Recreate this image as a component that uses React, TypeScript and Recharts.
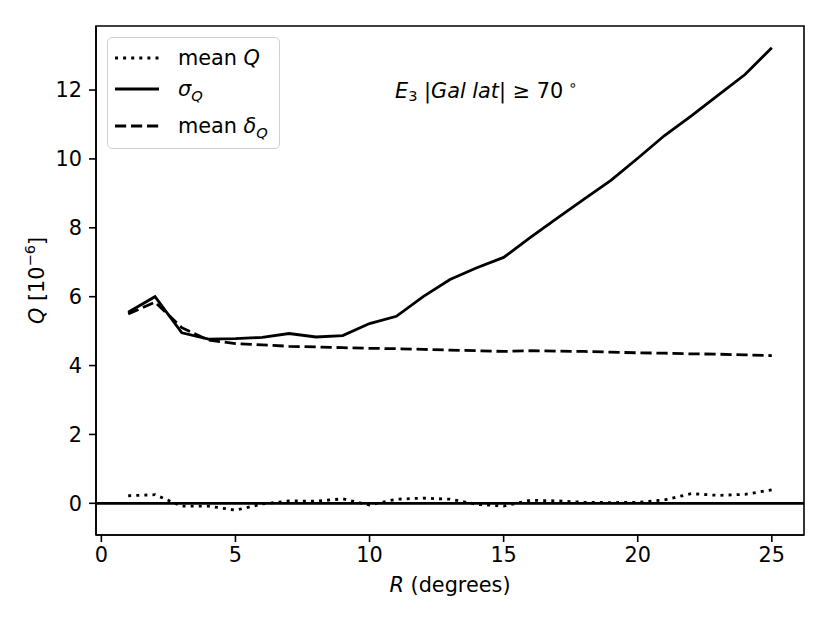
import React from "react";
import { LineChart, Line, XAxis, YAxis, ReferenceLine, ReferenceArea, Legend, Label } from "recharts";

const radii = [1, 2, 3, 4, 5, 6, 7, 8, 9, 10, 11, 12, 13, 14, 15, 16, 17, 18, 19, 20, 21, 22, 23, 24, 25];
const meanQ = [0.22, 0.25, -0.08, -0.08, -0.2, -0.02, 0.07, 0.06, 0.13, -0.05, 0.12, 0.15, 0.12, -0.03, -0.08, 0.09, 0.07, 0.03, 0.02, 0.03, 0.1, 0.28, 0.23, 0.26, 0.39];
const sigmaQ = [5.55, 6.0, 4.95, 4.77, 4.78, 4.82, 4.93, 4.83, 4.87, 5.22, 5.43, 6.0, 6.5, 6.84, 7.14, 7.72, 8.28, 8.83, 9.38, 10.02, 10.68, 11.25, 11.85, 12.45, 13.23];
const meanDeltaQ = [5.5, 5.84, 5.1, 4.74, 4.64, 4.6, 4.56, 4.54, 4.52, 4.5, 4.49, 4.47, 4.45, 4.43, 4.41, 4.43, 4.42, 4.41, 4.39, 4.37, 4.36, 4.34, 4.33, 4.31, 4.29];

const xTicks = [0, 5, 10, 15, 20, 25];
const yTicks = [0, 2, 4, 6, 8, 10, 12];

const data = radii.map((r, i) => ({ r, meanQ: meanQ[i], sigmaQ: sigmaQ[i], meanDeltaQ: meanDeltaQ[i] }));

const FONT = "DejaVu Sans, sans-serif";
const FS = 20.8;
const SUB = 14.6;
const LW = 2.8;
const AXW = 1.6;
const DOTTED = "3 5.1";
const DASHED = "11.2 4.8";

function LegendBox() {
  const rows = [
    { dash: DOTTED, y: 20, label: <>mean <i>Q</i></> },
    { dash: undefined, y: 51, label: <><i>σ</i><sub style={{ fontSize: SUB, fontStyle: "italic" }}>Q</sub></> },
    { dash: DASHED, y: 88, label: <>mean <i>δ</i><sub style={{ fontSize: SUB, fontStyle: "italic" }}>Q</sub></> },
  ];
  return (
    <div
      style={{
        position: "relative",
        width: 173,
        height: 112,
        border: "1.4px solid #d0d0d0",
        borderRadius: 5,
        background: "rgba(255,255,255,0.8)",
        boxSizing: "border-box",
        fontFamily: FONT,
        fontSize: FS,
        color: "#000",
      }}
    >
      {rows.map((row, i) => (
        <div key={i} style={{ position: "absolute", left: 0, top: row.y - 13, height: 26, width: "100%" }}>
          <svg width={52} height={26} style={{ position: "absolute", left: 0, top: 0 }}>
            <line x1={7} x2={51} y1={13} y2={13} stroke="#000" strokeWidth={LW} strokeDasharray={row.dash} />
          </svg>
          <span style={{ position: "absolute", left: 70, top: 0, lineHeight: "26px", whiteSpace: "nowrap" }}>{row.label}</span>
        </div>
      ))}
    </div>
  );
}

export default function App() {
  return (
    <div style={{ position: "absolute", left: 0, top: 0, width: 830, height: 623, background: "#fff" }}>
      <LineChart width={830} height={623} data={data} margin={{ top: 26, right: 26, bottom: 0, left: 0 }}>
        <XAxis
          dataKey="r"
          type="number"
          domain={[-0.2, 26.2]}
          ticks={xTicks}
          allowDataOverflow
          height={88}
          tickSize={7}
          tickMargin={5}
          axisLine={{ stroke: "#000", strokeWidth: AXW }}
          tickLine={{ stroke: "#000", strokeWidth: AXW }}
          tick={{ fill: "#000", fontSize: FS, fontFamily: FONT }}
        >
          <Label
            content={({ viewBox }: any) => (
              <text
                x={viewBox.x + viewBox.width / 2}
                y={viewBox.y + 57}
                textAnchor="middle"
                fontFamily={FONT}
                fontSize={FS}
                fill="#000"
              >
                <tspan fontStyle="italic">R</tspan>
                <tspan> (degrees)</tspan>
              </text>
            )}
          />
        </XAxis>
        <YAxis
          type="number"
          domain={[-0.92, 13.86]}
          ticks={yTicks}
          allowDataOverflow
          width={96}
          tickSize={7}
          tickMargin={7}
          axisLine={{ stroke: "#000", strokeWidth: AXW }}
          tickLine={{ stroke: "#000", strokeWidth: AXW }}
          tick={{ fill: "#000", fontSize: FS, fontFamily: FONT }}
        >
          <Label
            content={({ viewBox }: any) => {
              const cx = 44;
              const cy = viewBox.y + viewBox.height / 2;
              return (
                <text
                  x={cx}
                  y={cy}
                  transform={`rotate(-90 ${cx} ${cy})`}
                  textAnchor="middle"
                  fontFamily={FONT}
                  fontSize={FS}
                  fill="#000"
                >
                  <tspan fontStyle="italic">Q</tspan>
                  <tspan> [10</tspan>
                  <tspan fontSize={SUB} dy={-9}>−6</tspan>
                  <tspan dy={9}>]</tspan>
                </text>
              );
            }}
          />
        </YAxis>
        <ReferenceArea x1={-0.2} x2={26.2} y1={-0.92} y2={13.86} fill="none" stroke="#000" strokeWidth={AXW} ifOverflow="visible" />
        <ReferenceLine y={0} stroke="#000" strokeWidth={LW} />
        <Line
          dataKey="meanQ"
          stroke="#000"
          strokeWidth={LW}
          strokeDasharray={DOTTED}
          dot={false}
          isAnimationActive={false}
        />
        <Line dataKey="sigmaQ" stroke="#000" strokeWidth={LW} dot={false} isAnimationActive={false} />
        <Line
          dataKey="meanDeltaQ"
          stroke="#000"
          strokeWidth={LW}
          strokeDasharray={DASHED}
          dot={false}
          isAnimationActive={false}
        />
        <Legend
          layout="horizontal"
          verticalAlign="middle"
          align="center"
          content={() => <LegendBox />}
          wrapperStyle={{ position: "absolute", left: 107, top: 37, width: 173, height: 112, margin: 0 }}
        />
      </LineChart>
      <div
        style={{
          position: "absolute",
          left: 395,
          top: 72,
          fontFamily: FONT,
          fontSize: FS,
          color: "#000",
          whiteSpace: "nowrap",
          lineHeight: "26px",
        }}
      >
        <i>E</i>
        <sub style={{ fontSize: SUB, verticalAlign: "-3px" }}>3</sub>
        <span> </span>
        <i>|Gal lat|</i>
        <span> ≥ 70</span>
        <sup style={{ fontSize: SUB, verticalAlign: "8px", marginLeft: 5 }}>∘</sup>
      </div>
    </div>
  );
}
